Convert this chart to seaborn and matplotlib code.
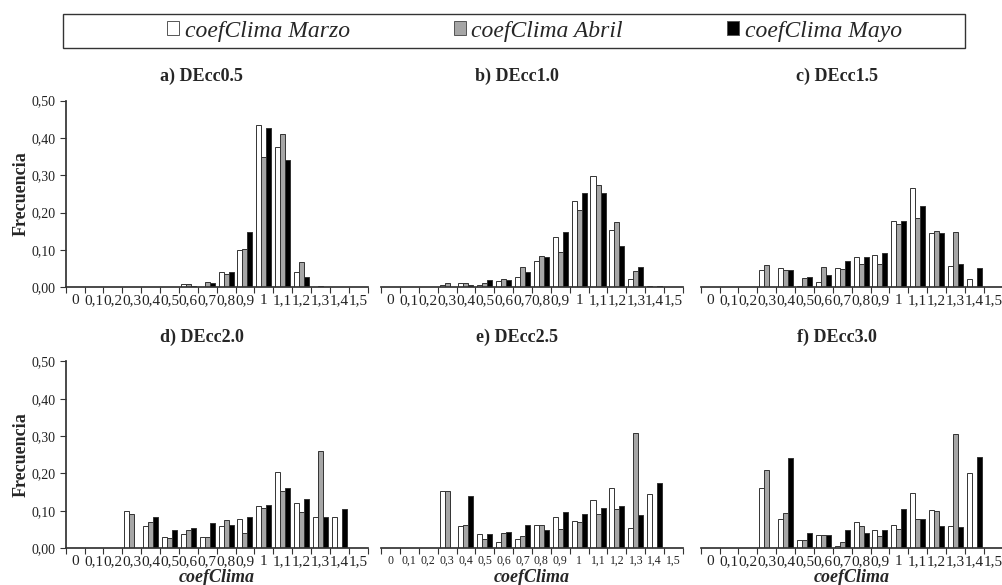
import numpy as np
import pandas as pd
import matplotlib
matplotlib.use("Agg")
import matplotlib.pyplot as plt
from matplotlib.patches import Patch, Rectangle
import seaborn as sns

# categories of coefClima (x axis)
categories = ["0", "0,1", "0,2", "0,3", "0,4", "0,5", "0,6", "0,7",
              "0,8", "0,9", "1", "1,1", "1,2", "1,3", "1,4", "1,5"]
series_names = ["coefClima Marzo", "coefClima Abril", "coefClima Mayo"]
titles = ["a) DEcc0.5", "b) DEcc1.0", "c) DEcc1.5",
          "d) DEcc2.0", "e) DEcc2.5", "f) DEcc3.0"]
yticks = [0.0, 0.1, 0.2, 0.3, 0.4, 0.5]

# frequencies
a_marzo = [0, 0, 0, 0, 0, 0, 0.008, 0, 0.040, 0.100, 0.435, 0.377, 0.040, 0, 0, 0]
a_abril = [0, 0, 0, 0, 0, 0, 0.008, 0.015, 0.036, 0.103, 0.350, 0.410, 0.068, 0.004, 0, 0]
a_mayo = [0, 0, 0, 0, 0, 0, 0.004, 0.012, 0.040, 0.148, 0.427, 0.340, 0.027, 0, 0, 0]

b_marzo = [0, 0, 0, 0.007, 0.012, 0.007, 0.018, 0.027, 0.070, 0.135, 0.230, 0.297, 0.153, 0.022, 0.004, 0]
b_abril = [0, 0, 0, 0.012, 0.012, 0.012, 0.022, 0.055, 0.085, 0.095, 0.206, 0.274, 0.174, 0.043, 0, 0]
b_mayo = [0, 0, 0, 0, 0.007, 0.020, 0.020, 0.040, 0.080, 0.147, 0.253, 0.252, 0.110, 0.055, 0.003, 0]

c_marzo = [0, 0, 0, 0.045, 0.052, 0.003, 0.015, 0.052, 0.080, 0.087, 0.177, 0.265, 0.145, 0.057, 0.023, 0]
c_abril = [0, 0, 0, 0.060, 0.045, 0.025, 0.055, 0.048, 0.062, 0.062, 0.170, 0.185, 0.150, 0.148, 0, 0]
c_mayo = [0, 0, 0, 0, 0.045, 0.027, 0.032, 0.070, 0.080, 0.093, 0.177, 0.217, 0.146, 0.063, 0.052, 0]

d_marzo = [0, 0, 0, 0.100, 0.060, 0.030, 0.037, 0.030, 0.060, 0.077, 0.112, 0.204, 0.120, 0.083, 0.083, 0]
d_abril = [0, 0, 0, 0.092, 0.070, 0.027, 0.048, 0.030, 0.075, 0.040, 0.108, 0.152, 0.097, 0.260, 0, 0]
d_mayo = [0, 0, 0, 0, 0.083, 0.047, 0.055, 0.068, 0.063, 0.083, 0.115, 0.160, 0.132, 0.083, 0.104, 0]

e_marzo = [0, 0, 0, 0.152, 0.060, 0.037, 0.017, 0.025, 0.062, 0.084, 0.073, 0.130, 0.160, 0.055, 0.145, 0]
e_abril = [0, 0, 0, 0.152, 0.062, 0.025, 0.040, 0.032, 0.063, 0.052, 0.070, 0.090, 0.105, 0.308, 0, 0]
e_mayo = [0, 0, 0, 0, 0.140, 0.037, 0.043, 0.063, 0.047, 0.096, 0.092, 0.108, 0.113, 0.088, 0.173, 0]

f_marzo = [0, 0, 0, 0.160, 0.077, 0.022, 0.036, 0.005, 0.070, 0.048, 0.063, 0.148, 0.103, 0.060, 0.200, 0]
f_abril = [0, 0, 0, 0.210, 0.093, 0.022, 0.036, 0.015, 0.060, 0.033, 0.052, 0.077, 0.100, 0.305, 0, 0]
f_mayo = [0, 0, 0, 0, 0.240, 0.040, 0.036, 0.048, 0.040, 0.048, 0.105, 0.077, 0.060, 0.057, 0.244, 0]

panels = [
    (a_marzo, a_abril, a_mayo),
    (b_marzo, b_abril, b_mayo),
    (c_marzo, c_abril, c_mayo),
    (d_marzo, d_abril, d_mayo),
    (e_marzo, e_abril, e_mayo),
    (f_marzo, f_abril, f_mayo),
]

colors = ["#ffffff", "#a6a6a6", "#000000"]

sns.set_theme(style="white")
plt.rcParams["font.family"] = ["Liberation Serif", "DejaVu Serif"]

fig = plt.figure(figsize=(10.03, 5.85), dpi=100)

lefts = [0.0655, 0.3799, 0.6986]
bottoms = [0.5089, 0.0632]
width, height = 0.301, 0.319

for i, (title, vals) in enumerate(zip(titles, panels)):
    row, col = divmod(i, 3)
    ax = fig.add_axes([lefts[col], bottoms[row], width, height])
    df = pd.DataFrame({
        "coefClima": categories * 3,
        "serie": np.repeat(series_names, len(categories)),
        "freq": np.concatenate(vals),
    })
    sns.barplot(data=df, x="coefClima", y="freq", hue="serie", order=categories,
                hue_order=series_names, palette=colors, edgecolor="#333333",
                linewidth=0.7, width=0.8, legend=False, ax=ax)
    ax.set_xlim(-0.5, len(categories) - 0.5)
    ax.set_ylim(0, 0.5)
    ax.set_title(title, fontsize=13, fontweight="bold", x=0.45, pad=14)

    # Excel style: tick marks between categories, labels centered
    ax.set_xticks(np.arange(len(categories)))
    ax.set_xticklabels(categories, fontsize=8.5 if i == 4 else 11)
    ax.set_xticks(np.arange(-0.5, len(categories), 1), minor=True)
    ax.tick_params(axis="x", which="major", length=0, pad=5, colors="#222222")
    ax.tick_params(axis="x", which="minor", length=4, width=0.8, color="#333333",
                   direction="out", bottom=True)

    sns.despine(ax=ax, left=(col != 0))
    ax.spines["bottom"].set_color("#333333")
    ax.spines["left"].set_color("#333333")
    if col == 0:
        ax.set_yticks(yticks)
        ax.set_yticklabels([f"{v:.2f}".replace(".", ",") for v in yticks], fontsize=10)
        ax.tick_params(axis="y", length=4, width=0.8, color="#333333",
                       direction="out", left=True, colors="#222222")
        ax.set_ylabel("Frecuencia", fontsize=13, fontweight="bold", labelpad=1)
    else:
        ax.set_yticks([])
        ax.set_ylabel("")
    if row == 1:
        ax.set_xlabel("coefClima", fontsize=13, fontweight="bold", style="italic")
        ax.xaxis.set_label_coords(0.5, -0.11)
    else:
        ax.set_xlabel("")

# legend box drawn separately so the entries can sit off-centre like the original
fig.patches.append(Rectangle((0.0628, 0.918), 0.8993, 0.058, transform=fig.transFigure,
                             facecolor="none", edgecolor="#333333", linewidth=1.0))
handles = [Patch(facecolor=c, edgecolor="#555555", linewidth=0.7) for c in colors]
fig.legend(handles, series_names, loc="center left", ncol=3,
           bbox_to_anchor=(0.1665, 0.947),
           prop={"family": "Liberation Serif", "style": "italic", "size": 17},
           frameon=False, handlelength=0.5, handleheight=0.5,
           handletextpad=0.25, columnspacing=4.4, borderpad=0, borderaxespad=0)

fig.savefig("out.png", dpi=100)
